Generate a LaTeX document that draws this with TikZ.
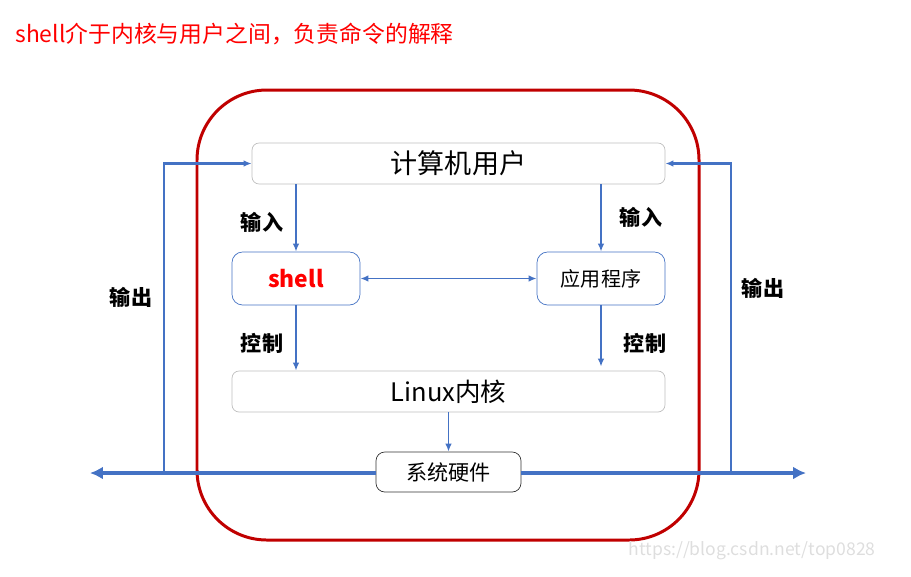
\documentclass[tikz,border=0pt]{standalone}
\usepackage{fontspec}
\setmainfont{Noto Sans CJK SC}
\usetikzlibrary{arrows.meta,positioning,calc}
\definecolor{ShBlue}{RGB}{68,114,196}
\definecolor{ShRed}{RGB}{255,0,0}
\definecolor{ShDarkRed}{RGB}{192,0,0}
\definecolor{ShGray}{RGB}{191,191,191}
\definecolor{ShMark}{RGB}{222,222,222}
\tikzset{
  sh/graybox/.style={
    draw=ShGray,
    thin,
    rounded corners=4pt,
    fill=white,
    align=center,
    text=black,
    inner sep=0pt
  },
  sh/bluebox/.style={
    draw=ShBlue,
    thin,
    rounded corners=6pt,
    fill=white,
    align=center,
    text=black,
    minimum width=2.56cm,
    minimum height=1.06cm,
    inner sep=0pt
  },
  sh/hwbox/.style={
    draw=black!80,
    thin,
    rounded corners=5pt,
    fill=white,
    align=center,
    text=black,
    minimum width=2.9cm,
    minimum height=0.8cm,
    inner sep=0pt,
    font=\fontsize{12}{14}\selectfont
  },
  sh/arrow/.style={-{Latex[length=1.6mm,width=1.3mm]}, line width=1pt, draw=ShBlue},
  sh/bus/.style={line width=1.8pt, draw=ShBlue},
  sh/label/.style={font=\fontsize{12}{14}\selectfont\bfseries, text=black}
}

\begin{document}
\begin{tikzpicture}[x=0.02cm,y=-0.02cm]
  \useasboundingbox (0,0) rectangle (911,576);

  % heading
  \node[anchor=west,text=ShRed,font=\fontsize{13}{15}\selectfont,inner sep=0pt] (title) at (15,34) {shell介于内核与用户之间，负责命令的解释};

  % kernel / user frame
  \draw[ShDarkRed,line width=1.7pt,rounded corners=1.4cm] (197,90) rectangle (699,540);

  % boxes
  \node[sh/graybox,minimum width=8.26cm,minimum height=0.82cm,font=\fontsize{15.4}{18}\selectfont] (user) at (458.5,163.5) {计算机用户};
  \node[sh/bluebox,text=ShRed,font=\fontsize{13}{15}\selectfont\bfseries] (shell) at (296,278.5) {shell};
  \node[sh/bluebox,font=\fontsize{11.4}{14}\selectfont] (app) at (601,278.5) {应用程序};
  \node[sh/graybox,minimum width=8.66cm,minimum height=0.82cm,font=\fontsize{14.5}{17}\selectfont] (kernel) at (448.5,391.5) {Linux内核};
  \node[sh/hwbox] (hw) at (448.5,472) {系统硬件};

  % bus and output loops
  \coordinate (busL) at (90,473);
  \coordinate (busR) at (806,473);
  \coordinate (outL) at (164,473);
  \coordinate (outR) at (731,473);
  \draw[sh/bus,-{Latex[length=2.6mm,width=2.6mm]}] (hw.west |- busL) -- (busL);
  \draw[sh/bus,-{Latex[length=2.6mm,width=2.6mm]}] (hw.east |- busR) -- (busR);
  \draw[sh/arrow,line width=1.3pt] (outL) |- (user.west);
  \draw[sh/arrow,line width=1.3pt] (outR) |- (user.east);

  % inner arrows
  \draw[sh/arrow] (user.south -| shell.north) -- (shell.north);
  \draw[sh/arrow] (user.south -| app.north) -- (app.north);
  \draw[sh/arrow,{Latex[length=1.6mm,width=1.3mm]}-{Latex[length=1.6mm,width=1.3mm]}] (shell.east) -- (app.west);
  \draw[sh/arrow] (shell.south) -- (shell.south |- kernel.north);
  \draw[sh/arrow] (app.south) -- ($(app.south |- kernel.north)+(0,-4)$);
  \draw[sh/arrow] (kernel.south) -- (hw.north);

  % labels
  \node[sh/label] (inL) at (262,222) {输入};
  \node[sh/label] (inR) at (641,217) {输入};
  \node[sh/label] (ctlL) at (262,343) {控制};
  \node[sh/label] (ctlR) at (645,343) {控制};
  \node[sh/label] (outLabL) at (131,297) {输出};
  \node[sh/label] (outLabR) at (763,288) {输出};

  % watermark
  \node[anchor=east,text=ShMark,font=\fontsize{10}{12}\selectfont,inner sep=0pt] (mark) at (876,551) {https://blog.csdn.net/top0828};
\end{tikzpicture}
\end{document}
